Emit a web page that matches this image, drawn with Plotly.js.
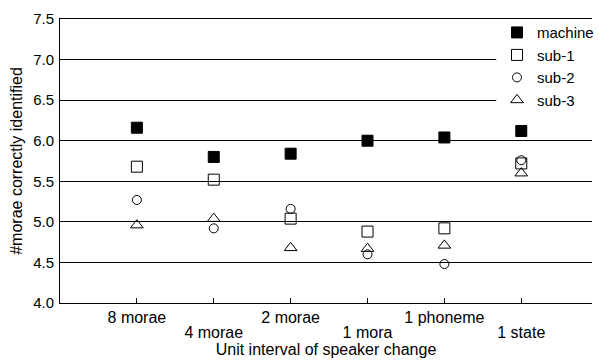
<!DOCTYPE html>
<html>
<head>
<meta charset="utf-8">
<script src="https://cdn.plot.ly/plotly-3.0.1.min.js"></script>
<style>html,body{margin:0;padding:0;background:#fff}#chart{width:599px;height:360px}</style>
</head>
<body>
<div id="chart"></div>
<script>
const categories = ['8 morae', '4 morae', '2 morae', '1 mora', '1 phoneme', '1 state'];
const machine = [6.16, 5.80, 5.84, 6.00, 6.04, 6.12];
const sub1 = [5.68, 5.52, 5.04, 4.88, 4.92, 5.72];
const sub2 = [5.27, 4.92, 5.16, 4.60, 4.48, 5.76];
const sub3 = [4.96, 5.04, 4.68, 4.67, 4.71, 5.60];

const idx = categories.map((c, i) => i);
const oddIdx = idx.filter(i => i % 2 === 1);
const font = {family: 'Liberation Sans, Arial, sans-serif', color: '#000'};
const xRange = [-1, 5.92];

function tr(name, y, symbol, size, xa) {
  return {
    type: 'scatter', mode: 'markers', name: name, x: idx, y: y, xaxis: xa || 'x',
    marker: {symbol: symbol, size: size, color: '#000', line: {color: '#000', width: 1}},
    cliponaxis: false
  };
}

const data = [
  tr('machine', machine, 'square', 11),
  tr('sub-1', sub1, 'square-open', 11),
  tr('sub-2', sub2, 'circle-open', 9),
  tr('sub-3', sub3, 'triangle-up-open', 11, 'x2')
];

const layout = {
  width: 599, height: 360,
  margin: {l: 60, r: 0, t: 19, b: 57, pad: 0},
  paper_bgcolor: '#fff', plot_bgcolor: '#fff',
  font: Object.assign({size: 15}, font),
  showlegend: true,
  legend: {
    x: 0.822, xanchor: 'left', y: 1.01, yanchor: 'top',
    bgcolor: 'rgba(0,0,0,0)', borderwidth: 0,
    font: Object.assign({size: 15}, font)
  },
  shapes: [{
    type: 'rect', xref: 'paper', yref: 'y', x0: 0.82, x1: 1, y0: 6.45, y1: 7.4,
    fillcolor: '#fff', line: {width: 0}, layer: 'above'
  }],
  xaxis: {
    range: xRange, tickmode: 'array', tickvals: idx,
    ticktext: idx.map(i => i % 2 === 0 ? categories[i] : ''),
    showgrid: false, zeroline: false,
    showline: true, linecolor: '#000', linewidth: 1, mirror: true,
    ticks: 'inside', ticklen: 5, tickcolor: '#000', tickwidth: 1,
    tickfont: Object.assign({size: 16}, font),
    title: {text: 'Unit interval of speaker change', font: Object.assign({size: 16}, font), standoff: 18}
  },
  xaxis2: {
    overlaying: 'x', anchor: 'y', side: 'bottom',
    range: xRange, tickmode: 'array', tickvals: oddIdx,
    ticktext: oddIdx.map(i => categories[i]),
    showgrid: false, zeroline: false, showline: false, ticks: '',
    ticklabelstandoff: 18,
    tickfont: Object.assign({size: 16}, font)
  },
  yaxis: {
    range: [4, 7.5], dtick: 0.5, tick0: 4, tickformat: '.1f',
    showgrid: true, gridcolor: '#000', gridwidth: 1, zeroline: false,
    showline: true, linecolor: '#000', linewidth: 1,
    ticks: '', ticklabelstandoff: 2,
    tickfont: Object.assign({size: 15}, font),
    title: {text: '#morae correctly identified', font: Object.assign({size: 16}, font), standoff: 6}
  }
};

Plotly.newPlot('chart', data, layout, {displayModeBar: false, staticPlot: true});
</script>
</body>
</html>
